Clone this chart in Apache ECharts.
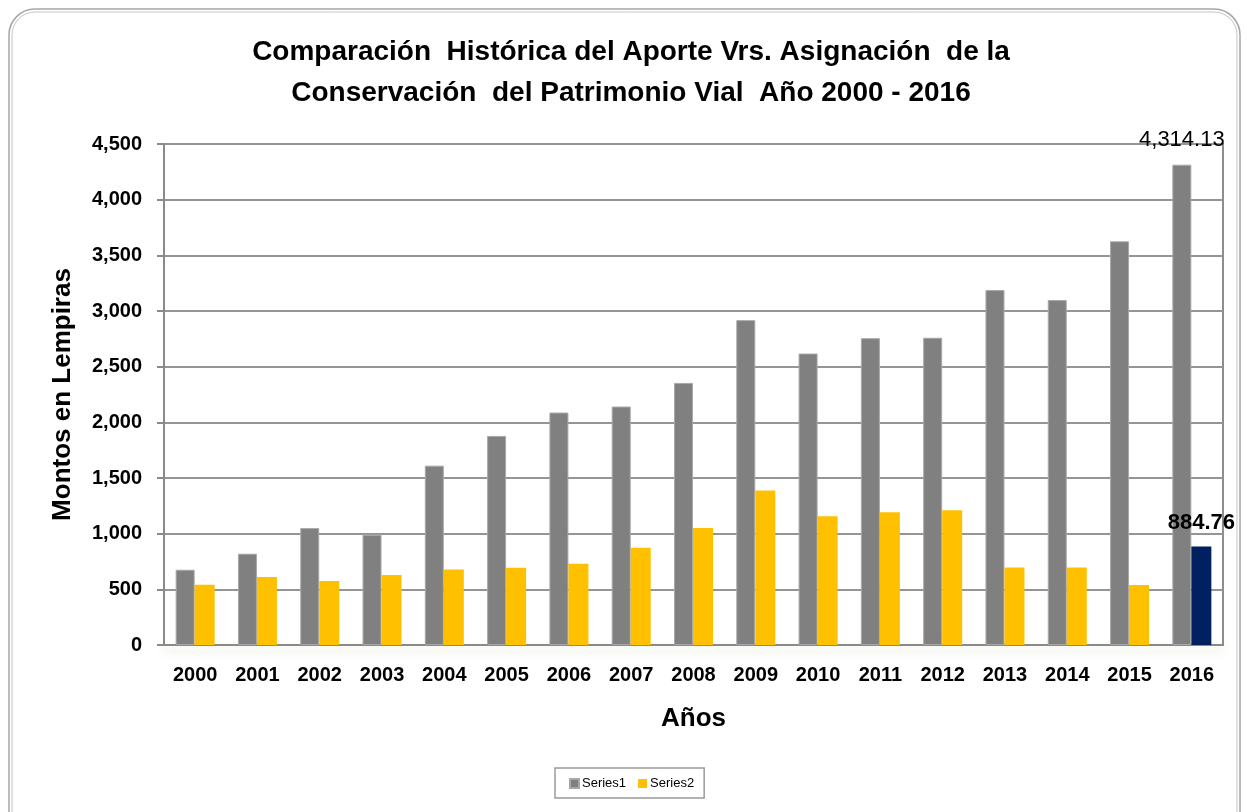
<!DOCTYPE html>
<html>
<head>
<meta charset="utf-8">
<script src="https://cdn.jsdelivr.net/npm/echarts@6/dist/echarts.min.js"></script>
<style>
  html, body { margin: 0; padding: 0; background: #fff; }
  #chart { width: 1249px; height: 812px; }
</style>
</head>
<body>
<div id="chart"></div>
<script>
const years = ['2000', '2001', '2002', '2003', '2004', '2005', '2006', '2007', '2008',
  '2009', '2010', '2011', '2012', '2013', '2014', '2015', '2016'];
const series1 = [676, 820, 1050, 991, 1611, 1878, 2088, 2142, 2354, 2918, 2618, 2756, 2760,
  3188, 3098, 3626, 4314.13];
const series2 = [541, 610, 574, 628, 679, 694, 730, 874, 1050, 1387, 1156, 1192, 1210,
  697, 697, 538, 884.76];
const yTicks = [0, 500, 1000, 1500, 2000, 2500, 3000, 3500, 4000, 4500];

const FONT = 'Liberation Sans';
const last = years.length - 1;

const chart = echarts.init(document.getElementById('chart'));

// only the last point carries a label; the 2016 Series2 bar is dark blue
const data1 = series1.map((v, i) => i === last ? {
  value: v,
  label: {
    show: true, position: 'top', distance: 14,
    formatter: p => p.value.toLocaleString('en-US', { minimumFractionDigits: 2 }),
    fontFamily: FONT, fontSize: 22, color: '#000'
  }
} : v);

const data2 = series2.map((v, i) => i === last ? {
  value: v,
  itemStyle: { color: '#002060' },
  label: {
    show: true, position: 'top', distance: 13,
    formatter: p => p.value.toFixed(2),
    fontFamily: FONT, fontSize: 22, fontWeight: 'bold', color: '#000'
  }
} : v);

const option = {
  backgroundColor: '#fff',
  animation: false,
  title: {
    text: 'Comparación  Histórica del Aporte Vrs. Asignación  de la\nConservación  del Patrimonio Vial  Año 2000 - 2016',
    left: 631, top: 32, padding: 0,
    textAlign: 'center',
    textStyle: { fontFamily: FONT, fontSize: 28, fontWeight: 'bold', color: '#000', lineHeight: 41 }
  },
  legend: {
    data: ['Series1', 'Series2'],
    left: 555, top: 768,
    padding: [9, 10, 8, 14],
    borderColor: '#9a9a9a', borderWidth: 1.5,
    itemWidth: 9, itemHeight: 9, itemGap: 12,
    icon: 'rect',
    textStyle: { fontFamily: FONT, fontSize: 13, color: '#000', padding: [0, 0, 0, -2] }
  },
  grid: {
    left: 164, right: 26, top: 144, bottom: 167,
    show: true, borderColor: '#8e8e8e', borderWidth: 2, backgroundColor: '#fff'
  },
  xAxis: {
    type: 'category',
    data: years,
    name: 'Años', nameLocation: 'middle', nameGap: 61,
    nameTextStyle: { fontFamily: FONT, fontSize: 26, fontWeight: 'bold', color: '#000' },
    axisLine: {
      lineStyle: {
        color: '#8a8a8a', width: 2,
        shadowColor: 'rgba(150,175,100,0.35)', shadowBlur: 8, shadowOffsetY: 5
      }
    },
    axisTick: { show: false },
    axisLabel: { margin: 20, fontFamily: FONT, fontSize: 20, fontWeight: 'bold', color: '#000' }
  },
  yAxis: {
    type: 'value',
    min: 0, max: 4500, interval: 500,
    name: 'Montos en Lempiras', nameLocation: 'middle', nameGap: 88,
    nameTextStyle: { fontFamily: FONT, fontSize: 26, fontWeight: 'bold', color: '#000' },
    axisLine: { show: true, lineStyle: { color: '#8a8a8a', width: 2 } },
    axisTick: { show: true, length: 7, lineStyle: { color: '#8a8a8a', width: 2 } },
    splitLine: { lineStyle: { color: '#959595', width: 2 } },
    axisLabel: {
      margin: 22, fontFamily: FONT, fontSize: 20, fontWeight: 'bold', color: '#000',
      formatter: v => yTicks.includes(v) ? v.toLocaleString('en-US') : ''
    }
  },
  series: [
    {
      name: 'Series1', type: 'bar', data: data1,
      barWidth: 19, barGap: '0%',
      itemStyle: { color: '#808080', borderColor: '#a8a8a8', borderWidth: 1 }
    },
    {
      name: 'Series2', type: 'bar', data: data2,
      barWidth: 20, barGap: '0%',
      itemStyle: { color: '#FFC000' }
    }
  ],
  graphic: [
    {
      type: 'rect', silent: true, z: -10,
      shape: { x: 9, y: 9, width: 1231, height: 840, r: 26 },
      style: { fill: null, stroke: '#a6a6a6', lineWidth: 1.5 }
    },
    {
      type: 'rect', silent: true, z: -10,
      shape: { x: 12, y: 12, width: 1225, height: 834, r: 23 },
      style: { fill: null, stroke: '#c4c4c4', lineWidth: 1 }
    }
  ]
};

chart.setOption(option);
</script>
</body>
</html>
